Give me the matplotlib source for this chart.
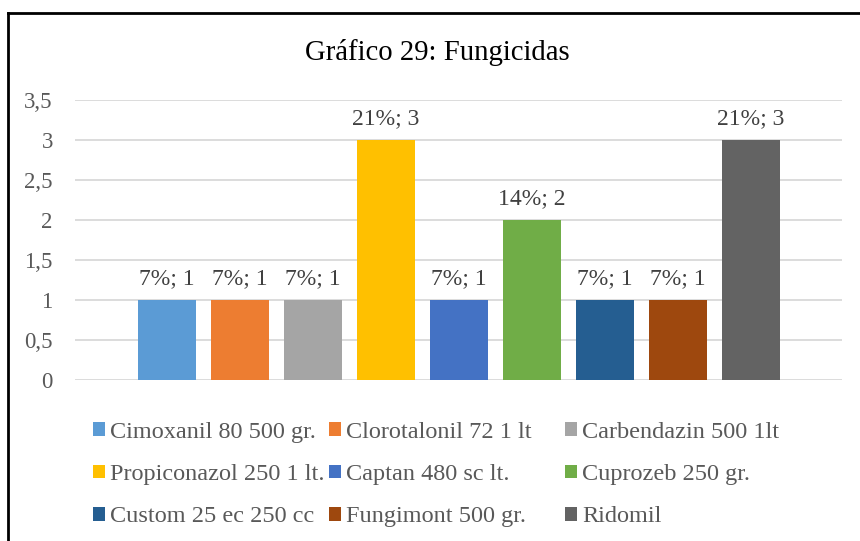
import matplotlib.pyplot as plt
from matplotlib.lines import Line2D
from matplotlib.ticker import FuncFormatter

plt.rcParams['font.family'] = ['Liberation Serif', 'DejaVu Serif']

# data
productos = ['Cimoxanil 80 500 gr.', 'Clorotalonil 72 1 lt', 'Carbendazin 500 1lt',
             'Propiconazol 250 1 lt.', 'Captan 480 sc lt.', 'Cuprozeb 250 gr.',
             'Custom 25 ec 250 cc', 'Fungimont 500 gr.', 'Ridomil']
cantidades = [1, 1, 1, 3, 1, 2, 1, 1, 3]
colores = ['#5B9BD5', '#ED7D31', '#A5A5A5', '#FFC000', '#4472C4',
           '#70AD47', '#255E91', '#9E480E', '#636363']
y_ticks = [0, 0.5, 1, 1.5, 2, 2.5, 3, 3.5]

W, H = 860, 541
fig = plt.figure(figsize=(W / 100, H / 100), dpi=100)
ax = fig.add_axes([75 / W, 1 - 380 / H, 767 / W, 280 / H])

total = sum(cantidades)
n = len(cantidades)
step = 73 / 767
width = 58 / 767
handles = []
for i, (nom, val, col) in enumerate(zip(productos, cantidades, colores)):
    x = (i - (n - 1) / 2) * step
    b = ax.bar(x, val, width=width, color=col, label=nom, zorder=3)
    pct = round(val / total * 100)
    ax.bar_label(b, labels=[f'{pct}%; {val}'], padding=8, fontsize=17, color='#404040')
    handles.append(b)

ax.set_xlim(-0.5, 0.5)
ax.set_ylim(0, 3.5)
ax.set_yticks(y_ticks)
ax.yaxis.set_major_formatter(FuncFormatter(lambda v, p: f'{v:g}'.replace('.', ',')))
ax.set_xticks([])
ax.tick_params(axis='y', length=0, pad=16, labelsize=16.5, labelcolor='#595959')
ax.grid(axis='y', color='#D9D9D9', linewidth=1.3, zorder=0)
for s in ax.spines.values():
    s.set_visible(False)

fig.text(437.5 / W, 1 - 52 / H, 'Gráfico 29: Fungicidas', ha='center', va='center',
         fontsize=20.7, color='black')

# legend, three columns like Excel
col_x = [93, 329, 565]
for j, cx in enumerate(col_x):
    hs = handles[j::3]
    fig.legend(handles=hs, labels=[productos[k] for k in range(j, n, 3)],
               loc='upper left', bbox_to_anchor=(cx / W, 1 - 422 / H),
               frameon=False, fontsize=17.5, labelcolor='#595959',
               handlelength=0.5, handleheight=0.5, handletextpad=0.22,
               labelspacing=0.87, borderpad=0, borderaxespad=0)

# chart frame
fig.add_artist(Line2D([7.5 / W, 7.5 / W], [-0.1, 1 - 13 / H], color='black', lw=2,
                      transform=fig.transFigure))
fig.add_artist(Line2D([7.5 / W, 1.1], [1 - 13 / H, 1 - 13 / H], color='black', lw=2,
                      transform=fig.transFigure))

fig.savefig('out.png', dpi=100)
